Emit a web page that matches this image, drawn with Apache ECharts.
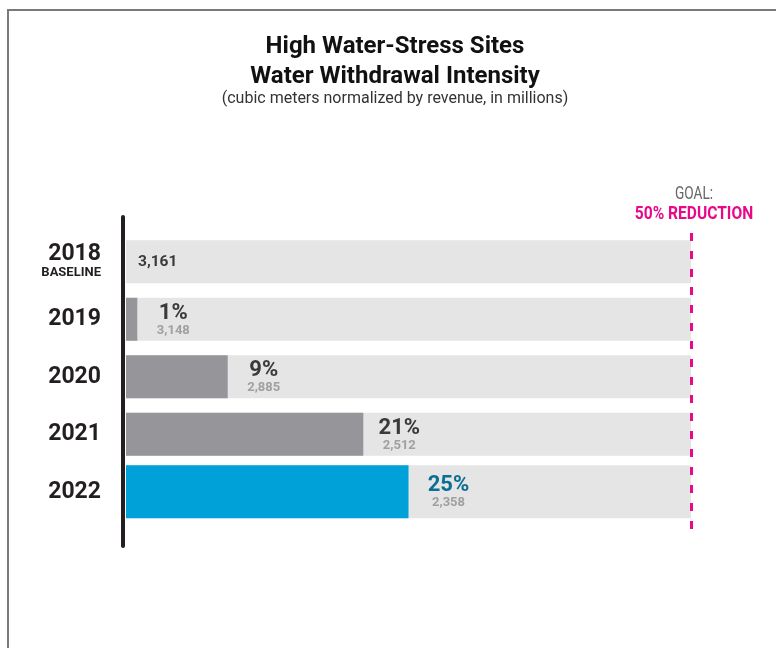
<!DOCTYPE html>
<html>
<head>
<meta charset="utf-8">
<script src="https://cdn.jsdelivr.net/npm/echarts@6/dist/echarts.min.js"></script>
<style>
  html, body { margin: 0; padding: 0; background: #fff; }
  #water-chart { width: 776px; height: 648px; }
</style>
</head>
<body>
<div id="water-chart"></div>
<script>
// 数据
const years = ['2018', '2019', '2020', '2021', '2022']
const reductions = [0, 1, 9, 21, 25]            // % reduction vs baseline
const intensities = [3161, 3148, 2885, 2512, 2358]
const goal = 50
const lastIdx = years.length - 1

const chart = echarts.init(document.getElementById('water-chart'))

const fmt = (n) => n.toLocaleString('en-US')

// label for the percent + value under it
const barLabel = function (params) {
    const i = params.dataIndex
    if (i === 0) return '{b|' + fmt(intensities[i]) + '}'
    const p = i === lastIdx ? 'pb' : 'p'
    return '{' + p + '|' + reductions[i] + '%}\n{v|' + fmt(intensities[i]) + '}'
}
const richText = {
    p: {fontSize: 22, fontWeight: 'bold', color: '#3a3a3a', lineHeight: 22, fontFamily: 'Roboto'},
    pb: {fontSize: 22, fontWeight: 'bold', color: '#0b6e93', lineHeight: 22, fontFamily: 'Roboto'},
    v: {fontSize: 13, fontWeight: 'bold', color: '#a0a0a0', lineHeight: 12, fontFamily: 'Roboto'},
    b: {fontSize: 15.5, fontWeight: 'bold', color: '#3a3a3a', fontFamily: 'Roboto'}
}

// rows 2018-2021 on axis 0, 2022 (taller bar) on axis 1
const bgMain = years.map((y, i) => i === lastIdx ? '-' : goal)
const bgLast = years.map((y, i) => i === lastIdx ? goal : '-')
const fgMain = reductions.map((v, i) => {
    if (i === lastIdx) return '-'
    if (i === 0) return {value: v, label: {align: 'left', distance: 12}}
    return v
})
const fgLast = reductions.map((v, i) => i === lastIdx ? v : '-')

const yCat = {
    type: 'category',
    data: years,
    inverse: true,
    axisLine: {show: false},
    axisTick: {show: false},
}

let option = {
    animation: false,
    title: [
        {
            text: 'High Water-Stress Sites\nWater Withdrawal Intensity',
            left: 395, top: 32, padding: 0, textAlign: 'center',
            textStyle: {fontSize: 24, fontWeight: 'bold', color: '#111', lineHeight: 30, fontFamily: 'Roboto'}
        },
        {
            text: '(cubic meters normalized by revenue, in millions)',
            left: 395, top: 91, padding: 0, textAlign: 'center',
            textStyle: {fontSize: 16, fontWeight: 'normal', color: '#333', lineHeight: 16, fontFamily: 'Roboto'}
        }
    ],
    graphic: [
        // outer frame
        {type: 'rect', shape: {x: 8, y: 10, width: 900, height: 800},
            style: {fill: 'none', stroke: '#7a7a7a', lineWidth: 2}, silent: true},
        // black vertical axis bar
        {type: 'rect', shape: {x: 121, y: 215, width: 4, height: 333, r: 2},
            style: {fill: '#231f20'}, silent: true},
        // goal caption (condensed look)
        {type: 'text', x: 694, y: 194, scaleX: 0.72, silent: true,
            style: {text: 'GOAL:', fill: '#666', font: 'normal 19px Roboto',
                textAlign: 'center', textVerticalAlign: 'middle'}},
        {type: 'text', x: 694, y: 214, scaleX: 0.82, silent: true,
            style: {text: '50% REDUCTION', fill: '#e8088a', font: 'bold 19px Roboto',
                textAlign: 'center', textVerticalAlign: 'middle'}}
    ],
    grid: {left: 126, right: 85, top: 233, bottom: 127.5},
    xAxis: {
        type: 'value', min: 0, max: goal, show: false
    },
    yAxis: [
        Object.assign({}, yCat, {
            axisLabel: {
                margin: 25,
                color: '#231f20',
                formatter: function (val) {
                    if (val === years[0]) return '{y|' + val + '}\n{s|BASELINE}'
                    return '{y|' + val + '}'
                },
                rich: {
                    y: {fontSize: 23, fontWeight: 'bold', color: '#231f20', lineHeight: 22, fontFamily: 'Roboto', align: 'right'},
                    s: {fontSize: 13, fontWeight: 'bold', color: '#231f20', lineHeight: 16, fontFamily: 'Roboto', align: 'right'}
                }
            }
        }),
        Object.assign({}, yCat, {show: false})
    ],
    series: [
        {
            type: 'bar', yAxisIndex: 0, data: bgMain, barWidth: 43, silent: true,
            itemStyle: {color: '#e4e5e4'},
            markLine: {
                silent: true, symbol: 'none',
                label: {show: false},
                lineStyle: {color: '#e8088a', width: 3, type: [8, 10]},
                data: [[{xAxis: goal, y: 233}, {xAxis: goal, y: 532}]]
            }
        },
        {
            type: 'bar', yAxisIndex: 0, data: fgMain, barWidth: 43, barGap: '-100%',
            itemStyle: {color: '#969599'},
            label: {show: true, position: 'right', distance: 36, align: 'center',
                formatter: barLabel, rich: richText}
        },
        {
            type: 'bar', yAxisIndex: 1, data: bgLast, barWidth: 53, silent: true,
            itemStyle: {color: '#e4e5e4'}
        },
        {
            type: 'bar', yAxisIndex: 1, data: fgLast, barWidth: 53, barGap: '-100%',
            itemStyle: {color: '#00a0d8'},
            label: {show: true, position: 'right', distance: 40, align: 'center',
                formatter: barLabel, rich: richText}
        }
    ]
}

option && chart.setOption(option)
window.addEventListener('resize', () => {
    chart.resize()
})
</script>
</body>
</html>
